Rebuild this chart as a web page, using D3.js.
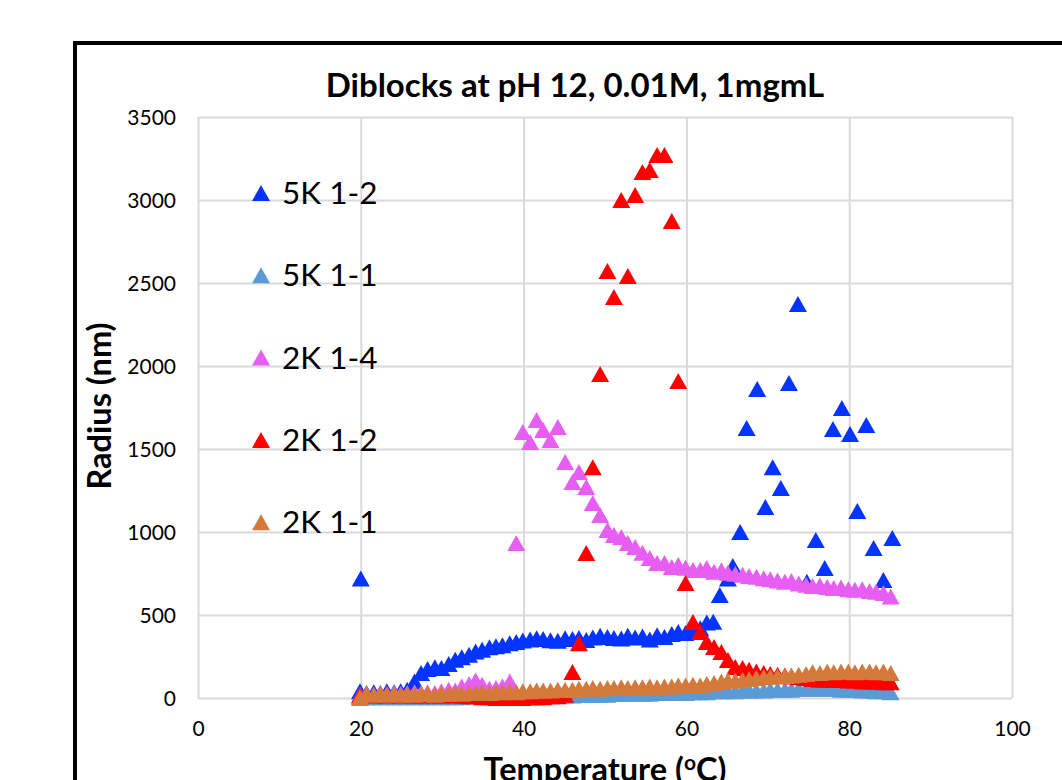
<!DOCTYPE html>
<html>
<head>
<meta charset="utf-8">
<script src="https://cdn.jsdelivr.net/npm/d3@7/dist/d3.min.js"></script>
<style>
  body { margin: 0; background: #fff; }
  svg text { font-family: Lato, "Open Sans", sans-serif; fill: #000; }
</style>
</head>
<body>
<svg id="chart" width="1062" height="780"></svg>
<script>
// shared temperature grid (2K series and 5K 1-1)
const temps = [19.9, 20.7, 21.6, 22.4, 23.2, 24.1, 24.9, 25.7, 26.6, 27.4,
  28.2, 29.1, 29.9, 30.8, 31.6, 32.4, 33.3, 34.1, 34.9, 35.8,
  36.6, 37.4, 38.3, 39.1, 39.9, 40.8, 41.6, 42.4, 43.3, 44.2,
  45.1, 46.0, 46.8, 47.7, 48.5, 49.4, 50.3, 51.1, 52.0, 52.8,
  53.7, 54.6, 55.5, 56.4, 57.3, 58.2, 59.0, 59.9, 60.8, 61.7,
  62.5, 63.4, 64.3, 65.1, 66.0, 66.9, 67.7, 68.6, 69.5, 70.3,
  71.2, 72.1, 72.9, 73.8, 74.7, 75.5, 76.4, 77.3, 78.1, 79.0,
  79.9, 80.7, 81.6, 82.5, 83.3, 84.2, 85.1];

// 5K 1-2 was run on its own temperature steps
const tempsBlue = [19.9, 20.0, 20.7, 21.6, 22.4, 23.2, 24.1, 24.9, 25.7, 26.6,
  27.4, 28.2, 29.1, 29.9, 30.8, 31.6, 32.4, 33.3, 34.1, 34.9,
  35.8, 36.6, 37.4, 38.3, 39.1, 39.9, 40.8, 41.6, 42.4, 43.3,
  44.2, 45.1, 46.0, 46.8, 47.7, 48.5, 49.4, 50.3, 51.1, 52.0,
  52.8, 53.7, 54.6, 55.5, 56.4, 57.3, 58.2, 59.0, 59.9, 60.8,
  61.7, 62.5, 63.3, 64.1, 65.1, 65.7, 66.6, 67.4, 68.7, 69.7,
  70.6, 71.6, 72.6, 73.7, 74.8, 75.9, 77.0, 78.0, 79.1, 80.1,
  81.0, 82.1, 83.0, 84.2, 85.3];

const r5k12 = [40, 720, 30, 35, 30, 40, 35, 40, 50, 100,
  150, 175, 185, 180, 205, 230, 245, 260, 280, 290,
  305, 312, 318, 330, 338, 346, 352, 360, 355, 348,
  345, 360, 355, 362, 350, 365, 375, 368, 362, 358,
  375, 365, 370, 352, 378, 368, 385, 398, 392, 410,
  420, 455, 460, 620, 720, 795, 1000, 1626, 1862, 1150,
  1390, 1265, 1897, 2373, 700, 952, 783, 1620, 1747, 1590,
  1127, 1645, 904, 711, 964];

const r5k11 = [0, 5, 5, 5, 5, 5, 5, 5, 5, 5,
  5, 5, 5, 5, 5, 5, 10, 10, 10, 10,
  10, 10, 10, 10, 10, 15, 15, 15, 15, 15,
  15, 15, 20, 20, 20, 20, 20, 25, 25, 25,
  25, 25, 25, 30, 30, 30, 30, 30, 35, 35,
  35, 40, 40, 40, 40, 45, 45, 45, 45, 50,
  50, 50, 50, 55, 55, 55, 55, 55, 55, 50,
  50, 50, 45, 45, 40, 40, 35];

const r2k14 = [20, 25, 20, 30, 25, 30, 25, 30, 35, 30,
  35, 30, 40, 50, 45, 70, 85, 105, 80, 55,
  60, 70, 100, 933, 1602, 1542, 1675, 1614, 1554, 1632,
  1422, 1301, 1361, 1271, 1175, 1102, 1012, 982, 970, 934,
  910, 875, 843, 813, 813, 789, 801, 785, 771, 771,
  783, 760, 770, 755, 748, 742, 735, 730, 722, 715,
  708, 700, 705, 690, 682, 675, 678, 668, 662, 665,
  655, 652, 655, 645, 640, 632, 612];

const r2k12 = [15, 20, 15, 20, 15, 20, 15, 20, 15, 15,
  20, 15, 15, 20, 15, 15, 10, 10, 5, 5,
  0, 0, 0, 0, 0, 5, 5, 5, 10, 10,
  20, 157, 330, 873, 1390, 1952, 2572, 2416, 3000, 2542,
  3030, 3169, 3181, 3271, 3271, 2873, 1910, 693, 458, 398,
  337, 307, 277, 229, 187, 181, 170, 160, 150, 145,
  140, 135, 130, 125, 120, 115, 110, 110, 108, 108,
  105, 105, 100, 100, 98, 95, 95];

const r2k11 = [5, 25, 20, 25, 20, 25, 20, 25, 20, 25,
  25, 20, 25, 25, 30, 25, 30, 30, 35, 30,
  35, 35, 40, 35, 40, 40, 45, 45, 45, 50,
  50, 50, 55, 55, 60, 55, 60, 60, 65, 60,
  65, 65, 70, 65, 70, 70, 75, 75, 80, 75,
  85, 90, 100, 105, 105, 110, 115, 120, 125, 128,
  130, 133, 135, 140, 145, 155, 150, 160, 155, 160,
  160, 155, 160, 160, 155, 160, 150];

const seriesNames = ["5K 1-2", "5K 1-1", "2K 1-4", "2K 1-2", "2K 1-1"];
const seriesColors = ["#0533ff", "#5b9bd5", "#e75ef2", "#ff0000", "#d5793b"];
const seriesX = [tempsBlue, temps, temps, temps, temps];
const seriesY = [r5k12, r5k11, r2k14, r2k12, r2k11];

const xTicks = [0, 20, 40, 60, 80, 100];
const yTicks = [0, 500, 1000, 1500, 2000, 2500, 3000, 3500];

const svg = d3.select("#chart");
const plotL = 198, plotR = 1012, plotT = 117, plotB = 698;

const x = d3.scaleLinear().domain([0, 100]).range([plotL, plotR]);
const y = d3.scaleLinear().domain([0, 3500]).range([plotB, plotT]);

svg.append("rect").attr("width", 1062).attr("height", 780).attr("fill", "#fff");

// chart frame, runs off the right and bottom edges
svg.append("rect")
  .attr("x", 75).attr("y", 43)
  .attr("width", 1100).attr("height", 1000)
  .attr("fill", "none").attr("stroke", "#000").attr("stroke-width", 4);

// gridlines + tick labels
const gx = svg.append("g")
  .attr("transform", `translate(0,${plotB})`)
  .call(d3.axisBottom(x).tickValues(xTicks).tickSize(-(plotB - plotT)).tickPadding(0));
const gy = svg.append("g")
  .attr("transform", `translate(${plotL},0)`)
  .call(d3.axisLeft(y).tickValues(yTicks).tickFormat(d3.format("d"))
    .tickSize(-(plotR - plotL)).tickPadding(22));

[gx, gy].forEach(g => {
  g.select(".domain").remove();
  g.selectAll(".tick line").attr("stroke", "#d9d9d9").attr("stroke-width", 2);
  g.selectAll(".tick text").style("font-size", "21px").attr("fill", "#000");
});
gx.selectAll(".tick text").attr("y", 31).attr("dy", "0.35em");
gy.selectAll(".tick text").attr("dy", "0.35em");

// markers
const tri = "M0,-8L9,8L-9,8Z";
seriesNames.forEach((name, i) => {
  const pts = seriesX[i].map((t, j) => [t, seriesY[i][j]]);
  svg.append("g").attr("class", "series")
    .selectAll("path")
    .data(pts)
    .join("path")
    .attr("d", tri)
    .attr("transform", d => `translate(${x(d[0])},${y(d[1])})`)
    .attr("fill", seriesColors[i]);
});

// legend
const legend = svg.append("g");
seriesNames.forEach((name, i) => {
  const ly = 193 + i * 82.3;
  legend.append("path").attr("d", tri)
    .attr("transform", `translate(261,${ly})`)
    .attr("fill", seriesColors[i]);
  legend.append("text")
    .attr("x", 282).attr("y", ly + 11)
    .style("font-size", "31.5px")
    .text(name);
});

// title
svg.append("text")
  .attr("x", 575).attr("y", 97)
  .attr("text-anchor", "middle")
  .style("font-size", "33px").style("font-weight", "bold")
  .text("Diblocks at pH 12, 0.01M, 1mgmL");

// axis titles
svg.append("text")
  .attr("transform", "translate(111,406) rotate(-90)")
  .attr("text-anchor", "middle")
  .style("font-size", "32.5px").style("font-weight", "bold")
  .text("Radius (nm)");

const xt = svg.append("text")
  .attr("x", 605).attr("y", 781)
  .attr("text-anchor", "middle")
  .style("font-size", "32.5px").style("font-weight", "bold");
xt.append("tspan").text("Temperature (");
xt.append("tspan").attr("dy", -11).style("font-size", "21px").text("o");
xt.append("tspan").attr("dy", 11).text("C)");
</script>
</body>
</html>
